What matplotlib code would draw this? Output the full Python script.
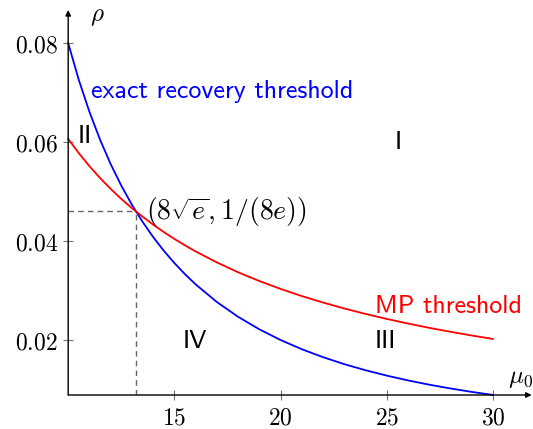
import numpy as np
import matplotlib
matplotlib.use('Agg')
import matplotlib.pyplot as plt

plt.rcParams['mathtext.fontset'] = 'cm'

# values
mu0 = [10, 10.5, 11, 11.5, 12, 12.5, 13, 13.5, 14, 14.5, 15, 15.5, 16,
       17, 18, 19, 20, 21, 22, 23, 24, 25, 26, 27, 28, 29, 30]
rho_exact = [0.0800, 0.07256, 0.06612, 0.06049, 0.05556, 0.0512, 0.04734, 0.0439,
             0.04082, 0.03805, 0.03556, 0.0333, 0.03125, 0.02768, 0.02469, 0.02216,
             0.0200, 0.01814, 0.01653, 0.01512, 0.01389, 0.0128, 0.01183, 0.01097,
             0.0102, 0.00951, 0.00889]
rho_mp = [0.06065, 0.05776, 0.05514, 0.05274, 0.05054, 0.04852, 0.04665, 0.04493,
          0.04332, 0.04183, 0.04043, 0.03913, 0.03791, 0.03568, 0.03369, 0.03192,
          0.03033, 0.02888, 0.02757, 0.02637, 0.02527, 0.02426, 0.02333, 0.02246,
          0.02166, 0.02091, 0.02022]
cross = (13.19, 0.046)
xticks = [15, 20, 25, 30]
yticks = [0.02, 0.04, 0.06, 0.08]
regions = ['I', 'II', 'III', 'IV']
region_pos = [(25.55, 0.0600), (10.8, 0.0611), (24.92, 0.0196), (15.97, 0.0196)]

fig = plt.figure(figsize=(5.33, 4.29), dpi=100)
ax = fig.add_axes([68.2/533, 1-395/429, (531.7-68.2)/533, (395-10)/429])
xmin, xmax = 10, 31.83
ymin, ymax = 0.00888, 0.0867
ax.set_xlim(xmin, xmax)
ax.set_ylim(ymin, ymax)

ax.plot(mu0, rho_exact, color='blue', lw=1.3, clip_on=False)
ax.plot(mu0, rho_mp, color='red', lw=1.3, clip_on=False)
ax.plot([xmin, cross[0]], [cross[1], cross[1]], ls=(0, (4, 3)), color='0.4', lw=1)
ax.plot([cross[0], cross[0]], [ymin, cross[1]], ls=(0, (4, 3)), color='0.4', lw=1)

for s in ['top', 'right', 'left', 'bottom']:
    ax.spines[s].set_visible(False)
ax.annotate('', xy=(1.0, 0), xycoords='axes fraction', xytext=(0, 0),
            arrowprops=dict(arrowstyle='-|>', color='black', lw=1, mutation_scale=8,
                            shrinkA=0, shrinkB=0))
ax.annotate('', xy=(0, 1.0), xycoords='axes fraction', xytext=(0, 0),
            arrowprops=dict(arrowstyle='-|>', color='black', lw=1, mutation_scale=8,
                            shrinkA=0, shrinkB=0))

ax.set_xticks(xticks)
ax.set_yticks(yticks)
ax.set_xticklabels(['$%d$' % t for t in xticks])
ax.set_yticklabels(['$%.2f$' % t for t in yticks])
ax.tick_params(direction='inout', length=7, width=0.8, color='0.45', labelsize=17, pad=4)

sf = 'cmss10'
ax.text(11.07, 0.0702, 'exact recovery threshold', color='blue', fontsize=18.7,
        family=sf, va='center', ha='left')
ax.text(27.89, 0.0268, 'MP threshold', color='red', fontsize=18.7, family=sf,
        va='center', ha='center')
for name, (x, y) in zip(regions, region_pos):
    ax.text(x, y, name, fontsize=18.7, family=sf, va='center', ha='center')
ax.text(13.67, 0.0459, r'$(8\sqrt{e},1/(8e))$', fontsize=20, va='center', ha='left')

ax.text(11.36, 0.0855, r'$\rho$', fontsize=18, va='center', ha='center')
ax.text(31.3, 0.0123, r'$\mu_0$', fontsize=18, va='center', ha='center')

fig.savefig('out.png', dpi=100)
